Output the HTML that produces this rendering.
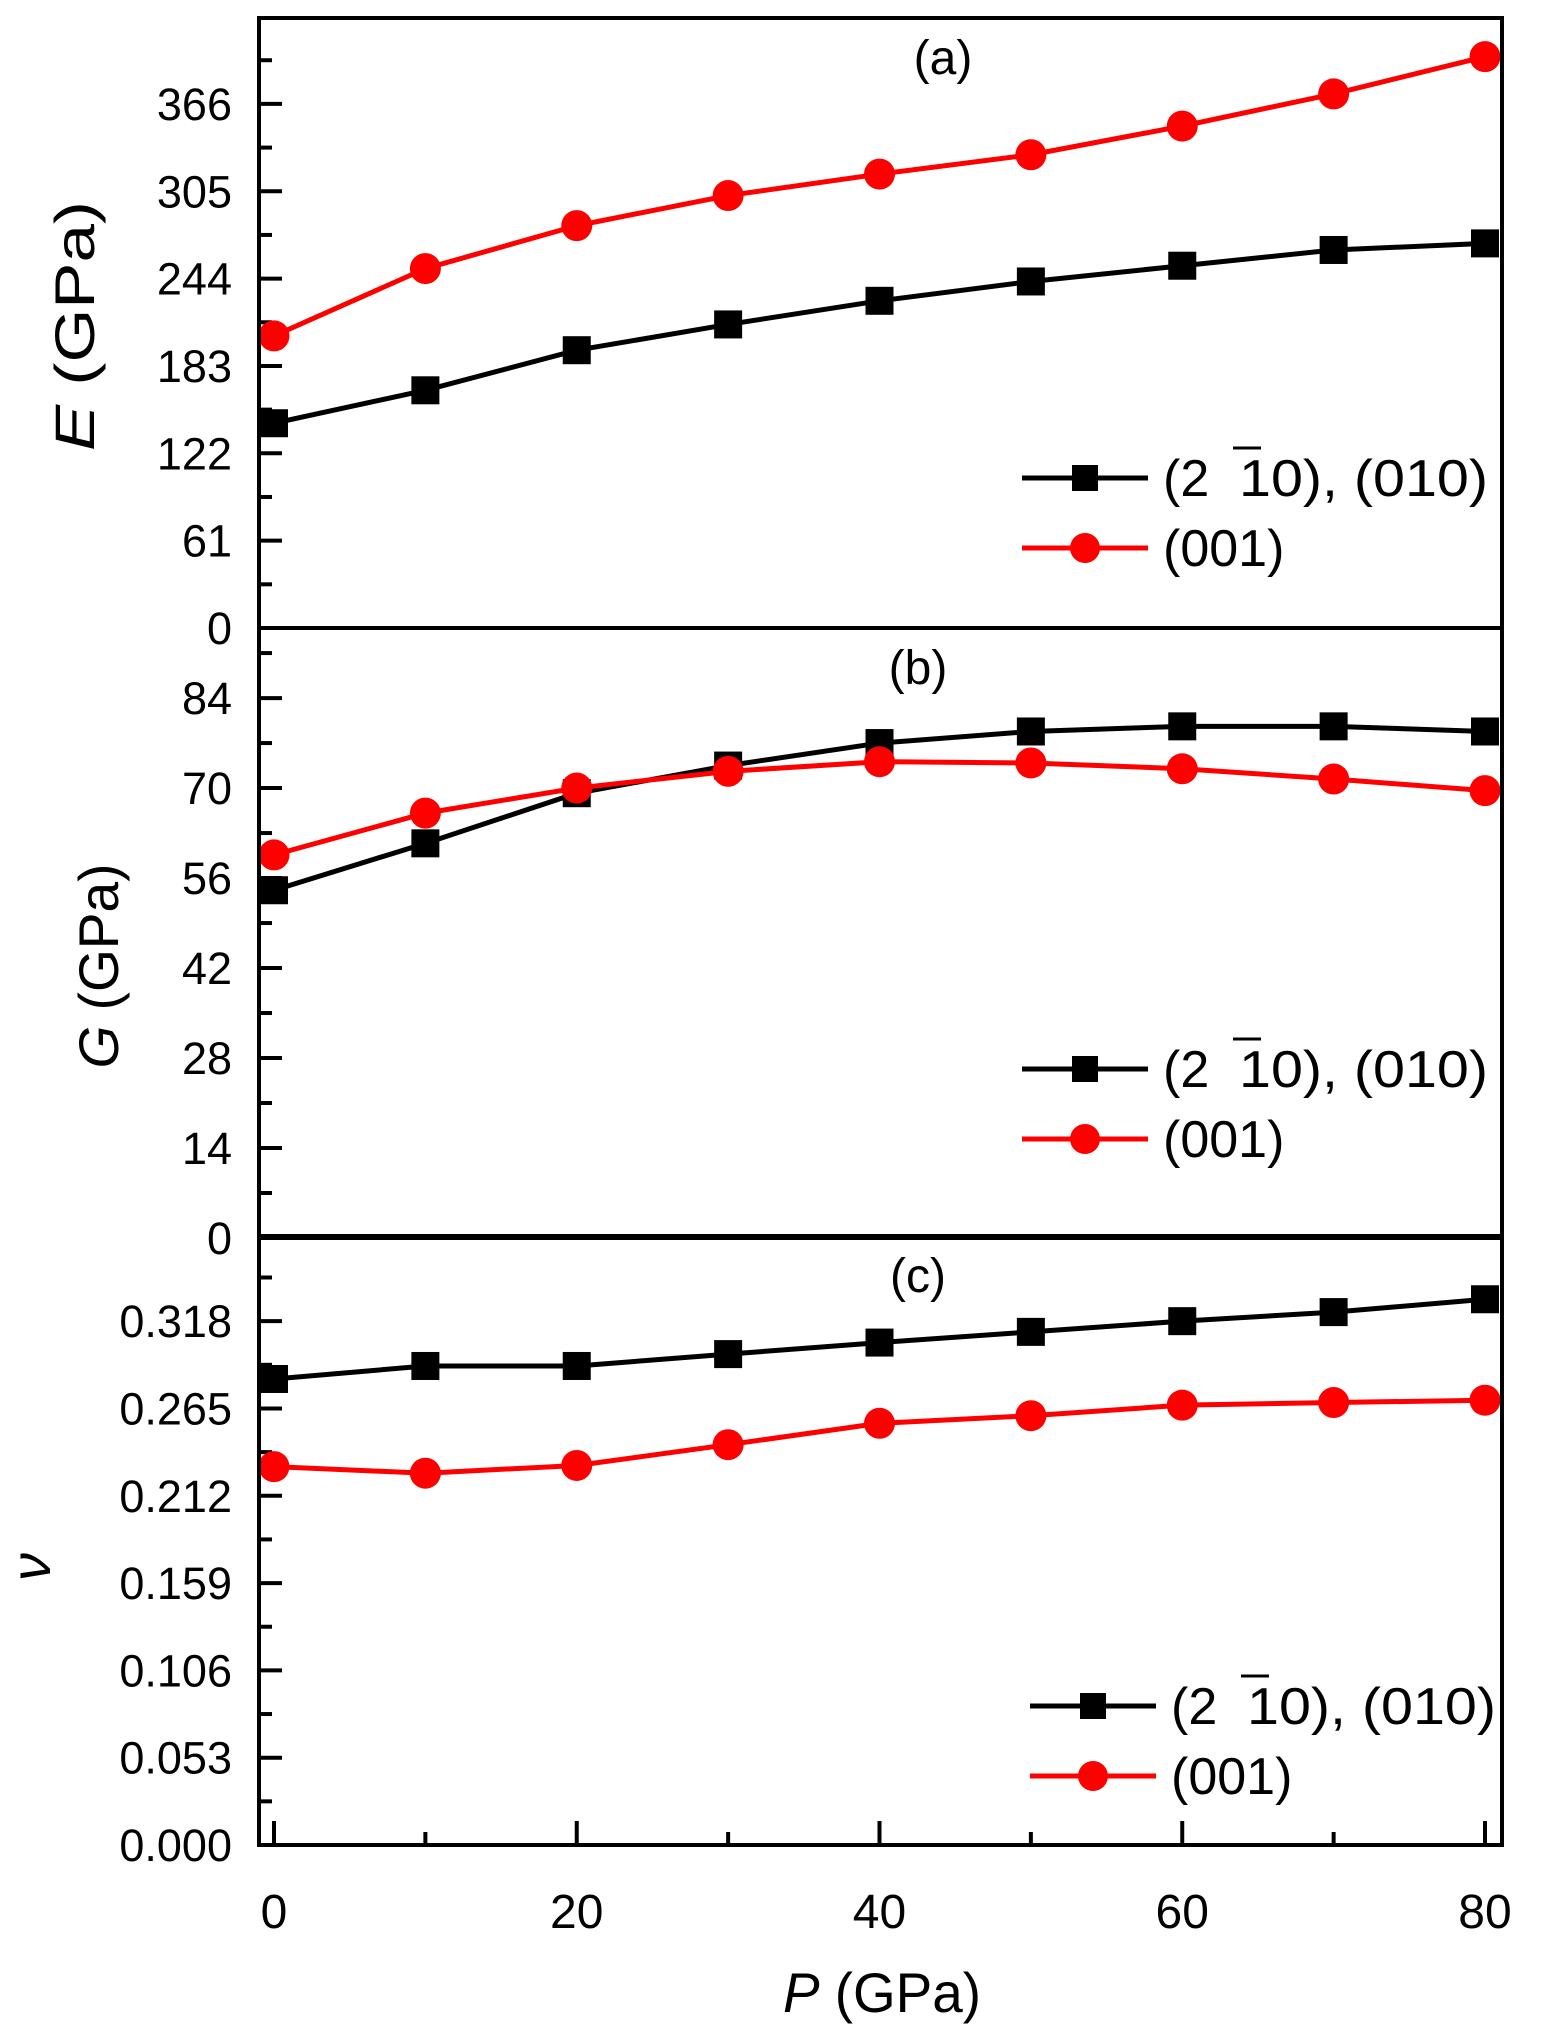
<!DOCTYPE html>
<html><head><meta charset="utf-8">
<style>
html,body{margin:0;padding:0;background:#fff;}
svg{display:block;font-family:"Liberation Sans",Arial,sans-serif;}
</style></head>
<body>
<svg id="chart" width="1541" height="2042" viewBox="0 0 1541 2042" xmlns="http://www.w3.org/2000/svg"></svg>
<script>
const pressures = [0,10,20,30,40,50,60,70,80];
const xTicks = [0,20,40,60,80];
const eBlack = [143,166,194,212,228.5,242,253,264,268.6];
const eRed = [204,251,281,302,317,330.5,350.5,373,399];
const gBlack = [54.1,61.4,69.2,73.5,77,78.8,79.6,79.6,78.8];
const gRed = [59.6,66.1,70,72.6,74.1,73.9,73,71.4,69.6];
const vBlack = [0.2829,0.2908,0.2908,0.298,0.305,0.3115,0.318,0.3235,0.3313];
const vRed = [0.2297,0.2257,0.2304,0.243,0.256,0.2606,0.267,0.2686,0.270];
const eTicks = ["0","61","122","183","244","305","366"];
const gTicks = ["0","14","28","42","56","70","84"];
const vTicks = ["0.000","0.053","0.106","0.159","0.212","0.265","0.318"];

const NS="http://www.w3.org/2000/svg";
const svg=document.getElementById('chart');
const L=259,R=1502;
function X(p){return 274+(p-0)*(1485-274)/80;}
function mk(tag,attrs,parent){const e=document.createElementNS(NS,tag);for(const k in attrs)e.setAttribute(k,attrs[k]);(parent||svg).appendChild(e);return e;}

const panels=[
 {name:'e',top:18,bot:628,max:426,step:61,ticks:eTicks,black:eBlack,red:eRed,label:'(a)',lx:943,ly:74,leg:{x1:1022,y:478}},
 {name:'g',top:628,bot:1238,max:94.9,step:14,ticks:gTicks,black:gBlack,red:gRed,label:'(b)',lx:918,ly:684,leg:{x1:1022,y:1069}},
 {name:'v',top:1236,bot:1845,max:0.3697,step:0.053,ticks:vTicks,black:vBlack,red:vRed,label:'(c)',lx:918,ly:1292,leg:{x1:1030,y:1706}}
];

panels.forEach(pn=>{
  const Y=v=>pn.bot-(v/pn.max)*(pn.bot-pn.top);
  const g=mk('g',{});
  
  
  pn.ticks.forEach((t,i)=>{
    const v=i*pn.step, y=Y(v);
    const tk=mk('line',{x1:L,x2:L+23,y1:y,y2:y,stroke:'#000','stroke-width':4},g);
    
    
    const tx=mk('text',{x:232,y:y+16,'text-anchor':'end','font-size':45},g);
    tx.textContent=t;
    
    
    const mv=v+pn.step/2;
    if(mv<pn.max){const ym=Y(mv);
      const mt=mk('line',{x1:L,x2:L+13,y1:ym,y2:ym,stroke:'#000','stroke-width':4},g);
      
      }
  });
  [['black',pn.black,'#000','square'],['red',pn.red,'#f00','circle']].forEach(([nm,arr,col,shape])=>{
    const pts=arr.map((v,i)=>X(pressures[i])+','+Y(v)).join(' ');
    const pl=mk('polyline',{points:pts,fill:'none',stroke:col,'stroke-width':5},g);
    
    
    arr.forEach((v,i)=>{
      let m;
      if(shape==='square') m=mk('rect',{x:X(pressures[i])-14,y:Y(v)-14,width:28,height:28,fill:col},g);
      else m=mk('circle',{cx:X(pressures[i]),cy:Y(v),r:15.5,fill:col},g);
      
      
    });
  });
  const lb=mk('text',{x:pn.lx,y:pn.ly,'text-anchor':'middle','font-size':48},g);
  lb.textContent=pn.label;
  
  
  const lg=mk('g',{},g);
  
  
  const x1=pn.leg.x1, x2=x1+126, xm=(x1+x2)/2, y1=pn.leg.y, y2=pn.leg.y+70, tx=x2+15;
  mk('line',{x1:x1,x2:x2,y1:y1,y2:y1,stroke:'#000','stroke-width':5},lg);
  mk('rect',{x:xm-13,y:y1-13,width:26,height:26,fill:'#000'},lg);
  const t1=mk('text',{x:tx,y:y1+18,'font-size':52},lg);
  t1.textContent='(2';
  
  
  const t1b=mk('text',{x:tx+76,y:y1+18,'font-size':52,textLength:249,lengthAdjust:'spacingAndGlyphs'},lg);
  t1b.textContent='10), (010)';
  
  
  mk('line',{x1:tx+70,x2:tx+98,y1:y1-30,y2:y1-30,stroke:'#000','stroke-width':3},lg);
  mk('line',{x1:x1,x2:x2,y1:y2,y2:y2,stroke:'#f00','stroke-width':5},lg);
  mk('circle',{cx:xm,cy:y2,r:15,fill:'#f00'},lg);
  const t2=mk('text',{x:tx,y:y2+18,'font-size':52},lg);
  t2.textContent='(001)';
  
  
});

const bot=1845;
pressures.forEach(p=>{
  const major=xTicks.includes(p);
  const t=mk('line',{x1:X(p),x2:X(p),y1:bot,y2:bot-(major?24:13),stroke:'#000','stroke-width':4});
  
  
});
xTicks.forEach(p=>{
  const t=mk('text',{x:X(p),y:1928,'text-anchor':'middle','font-size':48});
  t.textContent=String(p);
  
  
});
[[18,628],[628,1238],[1236,1845]].forEach(([t,b])=>{
  const r=mk('rect',{x:L,y:t,width:R-L,height:b-t,fill:'none',stroke:'#000','stroke-width':4});
  
  
});
function title(x,y,rot,parts,name,len){
  const a={x:x,y:y,'text-anchor':'middle','font-size':56,transform:rot?`rotate(-90 ${x} ${y})`:''};
  if(len){a.textLength=len;a.lengthAdjust='spacingAndGlyphs';}
  const t=mk('text',a);
  parts.forEach(([s,it])=>{const ts=mk('tspan',it?{'font-style':'italic'}:{},t);ts.textContent=s;});
  
  
}
title(94,326,true,[['E',1],[' (GPa)',0]],'y-axis-title-e',250);
title(118,966,true,[['G',1],[' (GPa)',0]],'y-axis-title-g',205);
title(50,1567,true,[['ν',1]],'y-axis-title-nu');
title(882,2012,false,[['P',1],[' (GPa)',0]],'x-axis-title',198);
</script>
</body></html>
